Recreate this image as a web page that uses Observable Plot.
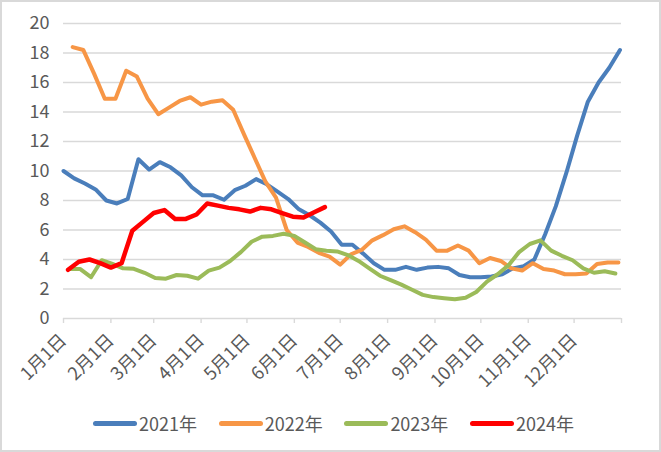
<!DOCTYPE html>
<html>
<head>
<meta charset="utf-8">
<script src="https://cdn.jsdelivr.net/npm/d3@7"></script>
<script src="https://cdn.jsdelivr.net/npm/@observablehq/plot@0.6"></script>
<style>
  html, body { margin: 0; padding: 0; background: #fff; }
  #wrap { position: relative; width: 661px; height: 452px; overflow: hidden; font-family: "Noto Sans CJK SC", "Noto Sans", sans-serif; }
  #frame { position: absolute; left: 0; top: 0; width: 661px; height: 452px; box-sizing: border-box; border: 2px solid #d9d9d9; pointer-events: none; }
  #chart { position: absolute; left: 0; top: 0; }
  #legend { position: absolute; top: 410px; left: 93px; display: flex; font-size: 18px; color: #595959; line-height: 26px; }
  .item { display: flex; align-items: center; width: 125.7px; white-space: nowrap; }
  .sw { display: inline-block; width: 44px; height: 5px; border-radius: 2.5px; margin-right: 2px; }
</style>
</head>
<body>
<div id="wrap">
  <div id="chart"></div>
  <div id="legend"></div>
  <div id="frame"></div>
</div>
<script>
// Series names and colours
const seriesNames = ["2021年", "2022年", "2023年", "2024年"];
const seriesColors = ["#4A7EBB", "#F79646", "#9BBB59", "#FF0000"];
// first weekly observation (month-day) of each series
const seriesStart = ["01-01", "01-07", "01-05", "01-04"];

// weekly values
const v2021 = [10.0, 9.5, 9.15, 8.75, 8.0, 7.8, 8.1, 10.8, 10.1, 10.6, 10.25, 9.7, 8.9, 8.35,
  8.35, 8.05, 8.7, 9.0, 9.45, 9.1, 8.6, 8.1, 7.4, 7.0, 6.5, 5.9, 5.0, 5.0, 4.4, 3.75,
  3.3, 3.3, 3.5, 3.3, 3.45, 3.5, 3.4, 2.95, 2.8, 2.8, 2.85, 3.0, 3.4, 3.55, 4.0,
  5.7, 7.6, 9.9, 12.4, 14.7, 16.0, 17.0, 18.2];
const v2022 = [18.4, 18.2, 16.6, 14.9, 14.9, 16.8, 16.4, 14.9, 13.85, 14.3, 14.75, 15.0, 14.5,
  14.7, 14.8, 14.15, 12.5, 10.9, 9.3, 8.2, 6.0, 5.15, 4.85, 4.45, 4.2, 3.65, 4.35, 4.65,
  5.3, 5.65, 6.05, 6.25, 5.85, 5.35, 4.6, 4.6, 4.95, 4.6, 3.75, 4.1, 3.9, 3.4, 3.25,
  3.75, 3.35, 3.25, 3.0, 3.0, 3.05, 3.7, 3.8, 3.8];
const v2023 = [3.35, 3.35, 2.8, 3.95, 3.7, 3.4, 3.37, 3.1, 2.75, 2.7, 2.95, 2.9, 2.7, 3.25,
  3.45, 3.9, 4.5, 5.2, 5.55, 5.6, 5.75, 5.6, 5.15, 4.7, 4.6, 4.55, 4.3, 3.9, 3.4, 2.9,
  2.6, 2.3, 1.95, 1.6, 1.45, 1.38, 1.3, 1.4, 1.8, 2.5, 3.0, 3.6, 4.5, 5.05, 5.3, 4.6,
  4.25, 3.95, 3.4, 3.1, 3.2, 3.05];
const v2024 = [3.3, 3.85, 4.0, 3.75, 3.45, 3.75, 5.95, 6.55, 7.15, 7.35, 6.75, 6.75, 7.05, 7.8,
  7.65, 7.5, 7.4, 7.25, 7.5, 7.4, 7.15, 6.9, 6.85, 7.2, 7.55];
const seriesValues = [v2021, v2022, v2023, v2024];

// axis ticks
const yTicks = [0, 2, 4, 6, 8, 10, 12, 14, 16, 18, 20];
const monthLabels = ["1月1日","2月1日","3月1日","4月1日","5月1日","6月1日","7月1日","8月1日","9月1日","10月1日","11月1日","12月1日",""];

// build table (all series on a common calendar year)
const baseYear = 2021;
const rows = [];
seriesValues.forEach((vals, s) => {
  const [m, d] = seriesStart[s].split("-").map(Number);
  vals.forEach((v, i) => {
    rows.push({series: seriesNames[s], date: new Date(Date.UTC(baseYear, m - 1, d + 7 * i)), value: v});
  });
});
const xTicks = monthLabels.map((_, i) => new Date(Date.UTC(baseYear, i, 1)));
const labelOf = new Map(xTicks.map((t, i) => [+t, monthLabels[i]]));

const plot = Plot.plot({
  width: 661,
  height: 395,
  marginLeft: 63,
  marginRight: 40,
  marginTop: 23,
  marginBottom: 77,
  style: {fontFamily: '"Noto Sans CJK SC", "Noto Sans", sans-serif', fontSize: "18px", color: "#595959", background: "transparent"},
  x: {type: "utc", domain: [xTicks[0], xTicks[12]]},
  y: {type: "linear", domain: [0, 20]},
  marks: [
    Plot.gridY(yTicks, {stroke: "#d9d9d9", strokeOpacity: 1, strokeWidth: 1.4}),
    Plot.axisY(yTicks, {tickSize: 0, tickPadding: 14, fontSize: 18, fill: "#595959", label: null}),
    Plot.axisX(xTicks, {tickSize: 5, stroke: "#d9d9d9", strokeWidth: 1.4, tickFormat: d => labelOf.get(+d), tickRotate: -45, tickPadding: 14, fontSize: 18, fill: "#595959", label: null}),
    ...seriesNames.map((n, s) =>
      Plot.line(rows.filter(r => r.series === n), {x: "date", y: "value", stroke: seriesColors[s], strokeWidth: s === 3 ? 4.5 : 4, strokeLinejoin: "round", strokeLinecap: "round"})
    )
  ]
});
document.getElementById("chart").appendChild(plot);

const legend = document.getElementById("legend");
seriesNames.forEach((n, i) => {
  const it = document.createElement("div");
  it.className = "item";
  const sw = document.createElement("span");
  sw.className = "sw";
  sw.style.background = seriesColors[i];
  const tx = document.createElement("span");
  tx.textContent = n;
  it.appendChild(sw); it.appendChild(tx);
  legend.appendChild(it);
});
</script>
</body>
</html>
